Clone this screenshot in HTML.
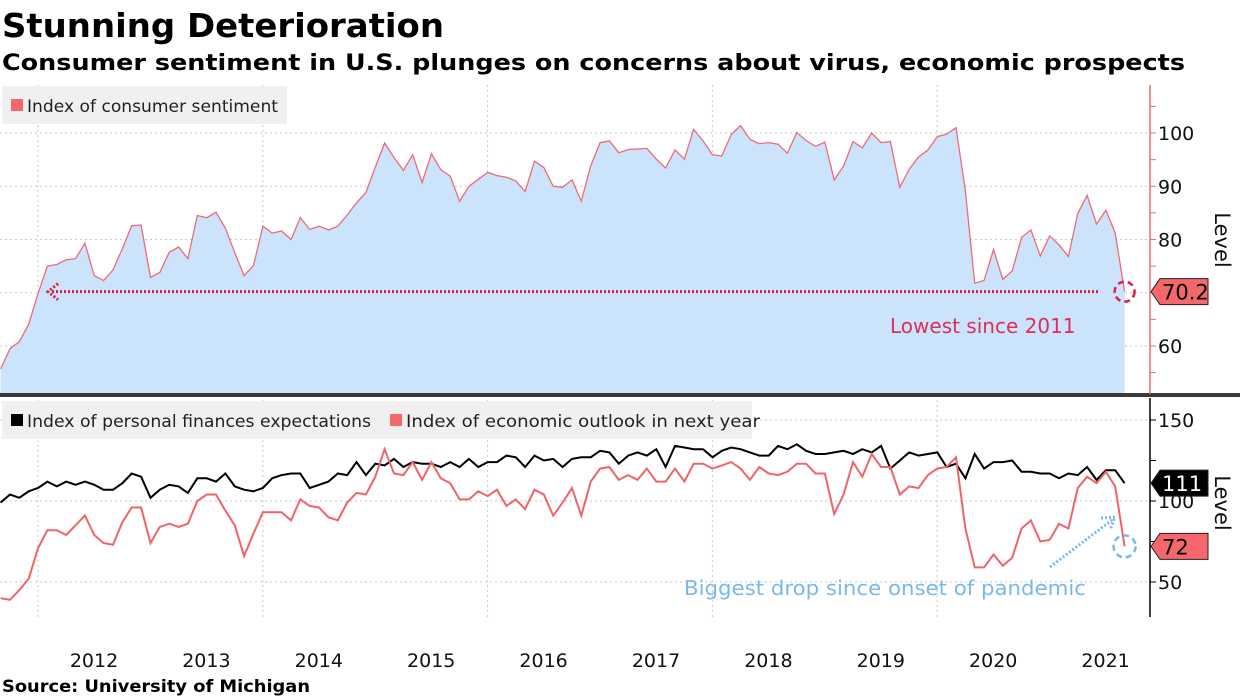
<!DOCTYPE html>
<html><head><meta charset="utf-8">
<style>
html,body{margin:0;padding:0;background:#fff;}
svg{display:block;font-family:"DejaVu Sans","Liberation Sans",sans-serif;}
</style></head>
<body>
<svg id="chart" width="1240" height="697" viewBox="0 0 1240 697" xmlns="http://www.w3.org/2000/svg">
  <text x="2" y="37" font-size="33" font-weight="bold" textLength="442" lengthAdjust="spacingAndGlyphs">Stunning Deterioration</text>
  <text x="2" y="70" font-size="22" font-weight="bold" textLength="1183" lengthAdjust="spacingAndGlyphs">Consumer sentiment in U.S. plunges on concerns about virus, economic prospects</text>
  <g id="grid"></g>
  <g id="topPanel"></g>
  <g id="bottomPanel"></g>
  <rect x="0" y="393" width="1240" height="4" fill="#3a3a3a"/>
  <g id="axes"></g>
  <text x="2" y="692" font-size="17" font-weight="bold" textLength="308" lengthAdjust="spacingAndGlyphs">Source: University of Michigan</text>
</svg>
<script>
// Index of consumer sentiment, monthly Aug 2011 .. Aug 2021
const sentiment = [55.7,59.5,60.8,64.1,69.9,
75.0,75.3,76.2,76.4,79.3,73.2,72.3,74.3,78.3,82.6,82.7,72.9,
73.8,77.6,78.6,76.4,84.5,84.1,85.1,82.1,77.5,73.2,75.1,82.5,
81.2,81.6,80.0,84.1,81.9,82.5,81.8,82.5,84.6,86.9,88.8,93.6,
98.1,95.4,93.0,95.9,90.7,96.1,93.1,91.9,87.2,90.0,91.3,92.6,
92.0,91.7,91.0,89.0,94.7,93.5,90.0,89.8,91.2,87.2,93.8,98.2,
98.5,96.3,96.9,97.0,97.1,95.1,93.4,96.8,95.1,100.7,98.5,95.9,
95.7,99.7,101.4,98.8,98.0,98.2,97.9,96.2,100.1,98.6,97.5,98.3,
91.2,93.8,98.4,97.2,100.0,98.2,98.4,89.8,93.2,95.5,96.8,99.3,
99.8,101.0,89.1,71.8,72.3,78.1,72.5,74.1,80.4,81.8,76.9,80.7,
79.0,76.8,84.9,88.3,82.9,85.5,81.2,70.2];
// Index of personal finances expectations
const finances = [99,104,102,106,108,112,109,112,110,112,110,107,107,111,117,115,102,107,110,109,105,114,114,112,117,109,107,106,108,114,116,117,117,108,110,112,117,116,124,116,123,122,126,121,
124,123,123,121,124,121,126,121,124,124,128,127,121,128,125,126,121,126,127,127,131,130,123,128,130,128,132,121,134,133,132,132,127,131,133,132,130,128,128,134,132,135,131,129,129,
130,131,129,132,130,134,120,125,130,128,129,130,121,123,114,129,120,124,124,125,118,118,117,117,114,117,116,121,113,119,119,111];
// Index of economic outlook in next year
const outlook = [40,39,45,52,71,82,82,79,85,91,79,74,73,87,96,96,74,84,86,84,86,100,104,104,94,85,66,80,93,93,93,88,101,97,96,90,88,99,105,104,115,132,117,116,
124,113,124,114,111,101,101,106,103,107,97,101,95,107,104,91,99,108,91,112,120,121,113,116,113,120,112,112,120,112,123,123,120,122,124,120,113,121,117,116,118,123,123,117,117,
92,104,124,115,129,121,121,104,109,108,116,120,121,127,83,59,59,67,60,65,83,88,75,76,86,83,108,115,111,118,109,72];
const yearLabels = ["2012","2013","2014","2015","2016","2017","2018","2019","2020","2021"];
const topTicks = [60,70,80,90,100];
const bottomTicks = [50,100,150];

const NS="http://www.w3.org/2000/svg";
function mk(tag, attrs, parent){const e=document.createElementNS(NS,tag);for(const k in attrs)e.setAttribute(k,attrs[k]);parent.appendChild(e);return e;}
const monthW = 112.4/12;
const xOf = i => 0.6 + i*monthW;
const yearX = k => 38 + k*112.4;
const yTop = v => 133 + (100 - v)*5.325;
const yBot = v => 501 - (v - 100)*1.62;
const gridG=document.getElementById('grid'), topG=document.getElementById('topPanel'), botG=document.getElementById('bottomPanel'), axesG=document.getElementById('axes');

for(let k=0;k<10;k+=2){
  const g=mk('line',{x1:yearX(k),x2:yearX(k),y1:85,y2:617,stroke:'#c8c8c8','stroke-dasharray':'2,3'},gridG);
  
  
}
topTicks.forEach(v=>{
  const g=mk('line',{x1:0,x2:1150,y1:yTop(v),y2:yTop(v),stroke:'#c8c8c8','stroke-dasharray':'2,3'},gridG);
  
  
});
bottomTicks.forEach(v=>{
  const g=mk('line',{x1:0,x2:1150,y1:yBot(v),y2:yBot(v),stroke:'#c8c8c8','stroke-dasharray':'2,3'},gridG);
  
  
});

let pts=sentiment.map((v,i)=>xOf(i).toFixed(1)+','+yTop(v).toFixed(1));
const area=mk('polygon',{points:xOf(0)+',394 '+pts.join(' ')+' '+xOf(sentiment.length-1)+',394',fill:'#cbe3fb'},topG);


const sline=mk('polyline',{points:pts.join(' '),fill:'none',stroke:'#ef6b73','stroke-width':1.3},topG);



const fl=mk('polyline',{points:finances.map((v,i)=>xOf(i).toFixed(1)+','+yBot(v).toFixed(1)).join(' '),fill:'none',stroke:'#000','stroke-width':2},botG);


const ol=mk('polyline',{points:outlook.map((v,i)=>xOf(i).toFixed(1)+','+yBot(v).toFixed(1)).join(' '),fill:'none',stroke:'#f06468','stroke-width':2},botG);



const ta=mk('line',{x1:1150,x2:1150,y1:85,y2:394,stroke:'#ef6b73','stroke-width':1.5},axesG);


for(let v=55;v<=105;v+=5){
  const t=mk('line',{x1:1150,x2:1156,y1:yTop(v),y2:yTop(v),stroke:'#ef6b73','stroke-width':1},axesG);
  
  
}
topTicks.forEach(v=>{
  const t=mk('text',{x:1158,y:yTop(v)+7,'font-size':19,fill:'#111'},axesG);t.textContent=v;
  
  
});
const ba=mk('line',{x1:1150,x2:1150,y1:398,y2:617,stroke:'#000','stroke-width':1.5},axesG);


[50,75,100,125,150].forEach(v=>{
  const t=mk('line',{x1:1150,x2:1156,y1:yBot(v),y2:yBot(v),stroke:'#000','stroke-width':1},axesG);
  
  
});
bottomTicks.forEach(v=>{
  const t=mk('text',{x:1158,y:yBot(v)+7,'font-size':19,fill:'#111'},axesG);t.textContent=v;
  
  
});
yearLabels.forEach((s,k)=>{
  const t=mk('text',{x:yearX(k)+56,y:667,'font-size':19,'text-anchor':'middle',fill:'#111'},axesG);t.textContent=s;
  
  
});
[[240,'top-axis-title'],[503,'bottom-axis-title']].forEach(([cy,n])=>{
  const t=mk('text',{x:0,y:0,'font-size':21,'text-anchor':'middle',fill:'#111',transform:'translate(1215,'+cy+') rotate(90)'},axesG);t.textContent='Level';
  
  
});

function legend(x,y,w,items,name){
  const g=mk('g',{},axesG);
  
  
  mk('rect',{x:x,y:y,width:w,height:38,fill:'#f0f0f0'},g);
  items.forEach(([ix,col,txt,tw])=>{
    mk('rect',{x:ix,y:y+13,width:12,height:12,fill:col},g);
    const t=mk('text',{x:ix+16,y:y+26,'font-size':17,fill:'#222',textLength:tw,lengthAdjust:'spacingAndGlyphs'},g);t.textContent=txt;
    
    
  });
}
legend(2,86,285,[[11,'#f6676b','Index of consumer sentiment',251]],'top-legend');
legend(2,401,750,[[11,'#000','Index of personal finances expectations',344],[390,'#f6676b','Index of economic outlook in next year',354]],'bottom-legend');

const last=sentiment.length-1, lx=xOf(last), ly=yTop(sentiment[last]);
const al=mk('line',{x1:52,x2:1098,y1:ly,y2:ly,stroke:'#d8203a','stroke-width':3,'stroke-dasharray':'2,2'},axesG);


const ah=mk('polyline',{points:'58,'+(ly-8)+' 48,'+ly+' 58,'+(ly+8),fill:'none',stroke:'#d8203a','stroke-width':3,'stroke-dasharray':'2,2'},axesG);


const c1=mk('circle',{cx:lx,cy:ly,r:10,fill:'none',stroke:'#e0204a','stroke-width':2.5,'stroke-dasharray':'6,4'},axesG);


const at=mk('text',{x:890,y:333,'font-size':20,fill:'#dc2f58'},axesG);at.textContent='Lowest since 2011';



function tag(y,txt,bg,fg,name,w){
  const g=mk('g',{},axesG);
  
  
  mk('polygon',{points:`1151,${y} 1160,${y-13} ${1160+w},${y-13} ${1160+w},${y+13} 1160,${y+13}`,fill:bg,stroke:'#222','stroke-width':1},g);
  const t=mk('text',{x:1162,y:y+8,'font-size':21,fill:fg},g);t.textContent=txt;
}
tag(ly,'70.2','#f6676b','#000','sentiment-value-tag',48);
tag(yBot(finances[last]),String(finances[last]),'#000','#fff','finances-value-tag',48);
tag(yBot(outlook[last]),String(outlook[last]),'#f6676b','#000','outlook-value-tag',48);

const ox=xOf(last), oy=yBot(outlook[last]);
const c2=mk('circle',{cx:ox,cy:oy,r:11,fill:'none',stroke:'#7ab8ec','stroke-width':2.5,'stroke-dasharray':'6,4'},axesG);


const bl=mk('line',{x1:1050,y1:567,x2:1112,y2:520,stroke:'#7ab8ec','stroke-width':3,'stroke-dasharray':'2,2'},axesG);


const bh=mk('polyline',{points:'1101,518 1115,517 1110,530',fill:'none',stroke:'#7ab8ec','stroke-width':3,'stroke-dasharray':'2,2'},axesG);


const bt=mk('text',{x:684,y:595,'font-size':20,fill:'#7ab8ec',textLength:402,lengthAdjust:'spacingAndGlyphs'},axesG);bt.textContent='Biggest drop since onset of pandemic';


</script>
</body></html>
